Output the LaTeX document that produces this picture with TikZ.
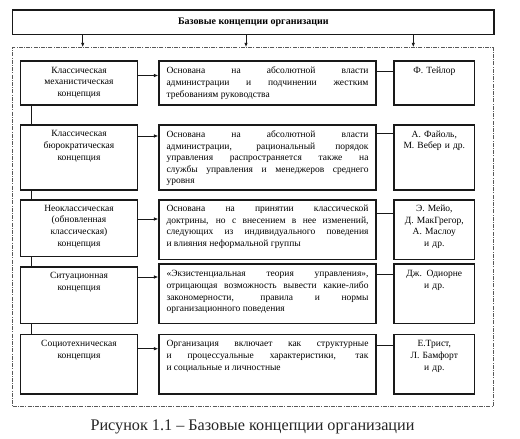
\documentclass[tikz,border=0pt]{standalone}
\usepackage{fontspec}
\setmainfont{Liberation Serif}
\usetikzlibrary{arrows.meta}
\begin{document}
\begin{tikzpicture}[x=1pt,y=-1pt,
  box/.style={draw=black!90, line width=1.1pt, inner sep=0pt, rectangle},
  dbox/.style={draw=black!65, line width=0.8pt, dash pattern=on 4pt off 1.2pt on 1pt off 1.2pt, inner sep=0pt, rectangle},
  txt/.style={font=\fontsize{9.5}{11.6}\selectfont, inner sep=0pt, anchor=north, text=black},
  ltxt/.style={txt, align=center, text width=112pt},
  mtxt/.style={txt, align=justify, text width=202pt},
  rtxt/.style={txt, align=center, text width=78pt},
  arr/.style={draw=black!90, line width=1pt, -{Latex[length=4.5pt,width=3.5pt]}},
  lnk/.style={draw=black!90, line width=1pt},
]
\useasboundingbox (0,0) rectangle (520,439);
\fill[white] (0,0) rectangle (520,439);

% top box and dashed frame
\node[box, minimum width=481.3pt, minimum height=24.3pt] (T) at (253.35,22.15) {};
\node[txt, anchor=center, font=\fontsize{10}{12}\selectfont\bfseries] (Tt) at (T.center) {Базовые концепции организации};
\node[dbox, minimum width=480.8pt, minimum height=358.3pt] (D) at (253.1,226.85) {};

\draw[arr] (T.south -| 82.7,0) -- (D.north -| 82.7,0);
\draw[arr] (T.south -| 246,0) -- (D.north -| 246,0);
\draw[arr] (T.south -| 413.3,0) -- (D.north -| 413.3,0);

% row 1
\node[box, minimum width=116.6pt, minimum height=44pt] (L1) at (79,83) {};
\node[box, minimum width=217pt, minimum height=44pt] (M1) at (267.5,83) {};
\node[box, minimum width=80.7pt, minimum height=44pt] (R1) at (434.3,83) {};
% row 2
\node[box, minimum width=116.6pt, minimum height=65pt] (L2) at (79,157.5) {};
\node[box, minimum width=217pt, minimum height=65pt] (M2) at (267.5,157.5) {};
\node[box, minimum width=80.7pt, minimum height=65pt] (R2) at (434.3,157.5) {};
% row 3
\node[box, minimum width=116.6pt, minimum height=56.5pt] (L3) at (79,228.25) {};
\node[box, minimum width=217pt, minimum height=59.3pt] (M3) at (267.5,229.65) {};
\node[box, minimum width=80.7pt, minimum height=59.3pt] (R3) at (434.3,229.65) {};
% row 4
\node[box, minimum width=116.6pt, minimum height=56.3pt] (L4) at (79,295.15) {};
\node[box, minimum width=217pt, minimum height=59.3pt] (M4) at (267.5,293.65) {};
\node[box, minimum width=80.7pt, minimum height=59.3pt] (R4) at (434.3,293.65) {};
% row 5
\node[box, minimum width=116.6pt, minimum height=59.5pt] (L5) at (79,364.25) {};
\node[box, minimum width=217pt, minimum height=59.5pt] (M5) at (267.5,364.25) {};
\node[box, minimum width=80.7pt, minimum height=59.5pt] (R5) at (434.3,364.25) {};

% texts
\node[ltxt] (L1t) at ([yshift=-6.5pt]L1.north) {Классическая\\механистическая\\концепция};
\node[mtxt] (M1t) at ([yshift=-6.5pt]M1.north) {Основана на абсолютной власти\linebreak администрации и подчинении жестким\linebreak требованиям руководства};
\node[rtxt] (R1t) at ([yshift=-6.5pt]R1.north) {Ф. Тейлор};

\node[ltxt] (L2t) at ([yshift=-6pt]L2.north) {Классическая\\бюрократическая\\концепция};
\node[mtxt] (M2t) at ([yshift=-6pt]M2.north) {Основана на абсолютной власти\linebreak администрации, рациональный порядок\linebreak управления распространяется также на\linebreak службы управления и менеджеров среднего\linebreak уровня};
\node[rtxt] (R2t) at ([yshift=-6pt]R2.north) {А. Файоль,\\М. Вебер и др.};

\node[ltxt] (L3t) at ([yshift=-5.5pt]L3.north) {Неоклассическая\\(обновленная\\классическая)\\концепция};
\node[mtxt] (M3t) at ([yshift=-5.5pt]M3.north) {Основана на принятии классической\linebreak доктрины, но с внесением в нее изменений,\linebreak следующих из индивидуального поведения\linebreak и влияния неформальной группы};
\node[rtxt] (R3t) at ([yshift=-5.5pt]R3.north) {Э. Мейо,\\Д. МакГрегор,\\А. Маслоу\\и др.};

\node[ltxt] (L4t) at ([yshift=-6pt]L4.north) {Ситуационная\\концепция};
\node[mtxt] (M4t) at ([yshift=-7pt]M4.north) {«Экзистенциальная теория управления»,\linebreak отрицающая возможность вывести какие-либо\linebreak закономерности, правила и нормы\linebreak организационного поведения};
\node[rtxt] (R4t) at ([yshift=-7pt]R4.north) {Дж. Одиорне\\и др.};

\node[ltxt] (L5t) at ([yshift=-6.5pt]L5.north) {Социотехническая\\концепция};
\node[mtxt] (M5t) at ([yshift=-6.5pt]M5.north) {Организация включает как структурные\linebreak и процессуальные характеристики, так\linebreak и социальные и личностные};
\node[rtxt] (R5t) at ([yshift=-6.5pt]R5.north) {Е.Трист,\\Л. Бамфорт\\и др.};

% connectors left -> middle
\draw[arr] (L1.east |- 0,75.5) -- (M1.west |- 0,75.5);
\draw[arr] (L2.east |- 0,136) -- (M2.west |- 0,136);
\draw[arr] (L3.east |- 0,219) -- (M3.west |- 0,219);
\draw[arr] (L4.east |- 0,277) -- (M4.west |- 0,277);
\draw[arr] (L5.east |- 0,348.7) -- (M5.west |- 0,348.7);
% middle -- right
\draw[lnk] (M1.east |- 0,71.7) -- (R1.west |- 0,71.7);
\draw[lnk] (M2.east |- 0,133) -- (R2.west |- 0,133);
\draw[lnk] (M3.east |- 0,213.3) -- (R3.west |- 0,213.3);
\draw[lnk] (M4.east |- 0,274.3) -- (R4.west |- 0,274.3);
\draw[lnk] (M5.east |- 0,345.7) -- (R5.west |- 0,345.7);
% vertical links between left boxes
\draw[lnk] (L1.south -| 31.7,0) -- (L2.north -| 31.7,0);
\draw[lnk] (L2.south -| 31.7,0) -- (L3.north -| 31.7,0);
\draw[lnk] (L3.south -| 31.7,0) -- (L4.north -| 31.7,0);
\draw[lnk] (L4.south -| 31.7,0) -- (L5.north -| 31.7,0);

% caption
\node[inner sep=0pt, font=\fontsize{16.2}{19}\selectfont, text=black!85] (cap) at (252.5,426.7) {Рисунок 1.1 – Базовые концепции организации};
\end{tikzpicture}
\end{document}
